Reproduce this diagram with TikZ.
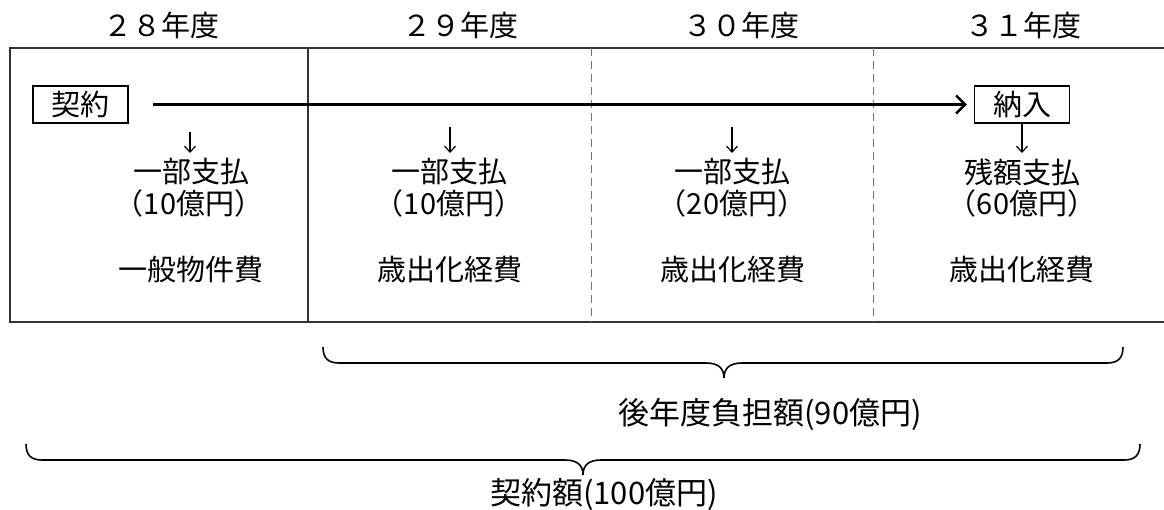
\documentclass[tikz,border=0pt]{standalone}
\usepackage{fontspec}
\setmainfont{Noto Sans CJK JP}
\usetikzlibrary{arrows.meta}
\tikzset{
  txt/.style={inner sep=0pt, font=\fontsize{29}{29}\selectfont},
  btxt/.style={inner sep=0pt, font=\fontsize{31}{31}\selectfont},
  lbox/.style={draw=black, line width=1.4pt, minimum width=95pt, minimum height=37pt, inner sep=0pt, font=\fontsize{29}{29}\selectfont},
  frame/.style={draw=black!80, line width=1.6pt},
  divdash/.style={draw=black!55, line width=1pt, dash pattern=on 8pt off 5pt},
  mainarrow/.style={line width=3pt, -{Straight Barb[length=9pt,width=18pt,line width=2.4pt]}},
  smallarrow/.style={line width=1.2pt, -{Straight Barb[length=6pt,width=11pt,line width=1.2pt]}},
  bracepath/.style={line width=1.6pt, black},
}
\begin{document}
\begin{tikzpicture}[x=1pt,y=-1pt]
\useasboundingbox (0,0) rectangle (1164,509);
% year labels
\node[txt] (y28) at (161,25) {２８年度};
\node[txt] (y29) at (460,25) {２９年度};
\node[txt] (y30) at (741,25) {３０年度};
\node[txt] (y31) at (1023,25) {３１年度};
% frame
\draw[frame] (1164,48) -- (10,48) -- (10,322) -- (1164,322);
\draw[frame] (308,48) -- (308,322);
\draw[divdash] (591,48) -- (591,322);
\draw[divdash] (873,48) -- (873,322);
% boxes
\node[lbox] (keiyaku) at (80.5,104.5) {契約};
\node[lbox] (nonyu) at (1022,104.5) {納入};
\draw[mainarrow, shorten <=24pt, shorten >=7pt] (keiyaku.east) -- (nonyu.west);
% column texts
\node[txt] (p28) at (191,172) {一部支払};
\node[txt] (a28) at (189,203) {（10億円）};
\node[txt] (k28) at (191,270) {一般物件費};
\node[txt] (p29) at (449,172) {一部支払};
\node[txt] (a29) at (449,203) {（10億円）};
\node[txt] (k29) at (450,270) {歳出化経費};
\node[txt] (p30) at (732,172) {一部支払};
\node[txt] (a30) at (732,203) {（20億円）};
\node[txt] (k30) at (733,270) {歳出化経費};
\node[txt] (p31) at (1022,172) {残額支払};
\node[txt] (a31) at (1022,203) {（60億円）};
\node[txt] (k31) at (1022,270) {歳出化経費};
% small arrows
\coordinate (s28) at (190,132);
\coordinate (s29) at (450,127);
\coordinate (s30) at (732,127);
\draw[smallarrow] (s28) -- (190,153);
\draw[smallarrow] (s29) -- (450,153);
\draw[smallarrow] (s30) -- (732,153);
\draw[smallarrow] (nonyu.south) -- (1022,153);
% braces
\draw[bracepath] (323,347) .. controls (323,358) and (328,363) .. (339,363)
  -- (706,363) .. controls (718,363) and (724,368) .. (724,378)
  .. controls (724,368) and (730,363) .. (742,363)
  -- (1107,363) .. controls (1118,363) and (1123,358) .. (1123,347);
\draw[bracepath] (26,444) .. controls (26,455) and (31,460) .. (42,460)
  -- (565,460) .. controls (577,460) and (583,465) .. (583,475)
  .. controls (583,465) and (589,460) .. (601,460)
  -- (1124,460) .. controls (1135,460) and (1140,455) .. (1140,444);
\node[btxt] (later) at (770,414) {後年度負担額(90億円)};
\node[btxt] (total) at (604,494) {契約額(100億円)};
\end{tikzpicture}
\end{document}
